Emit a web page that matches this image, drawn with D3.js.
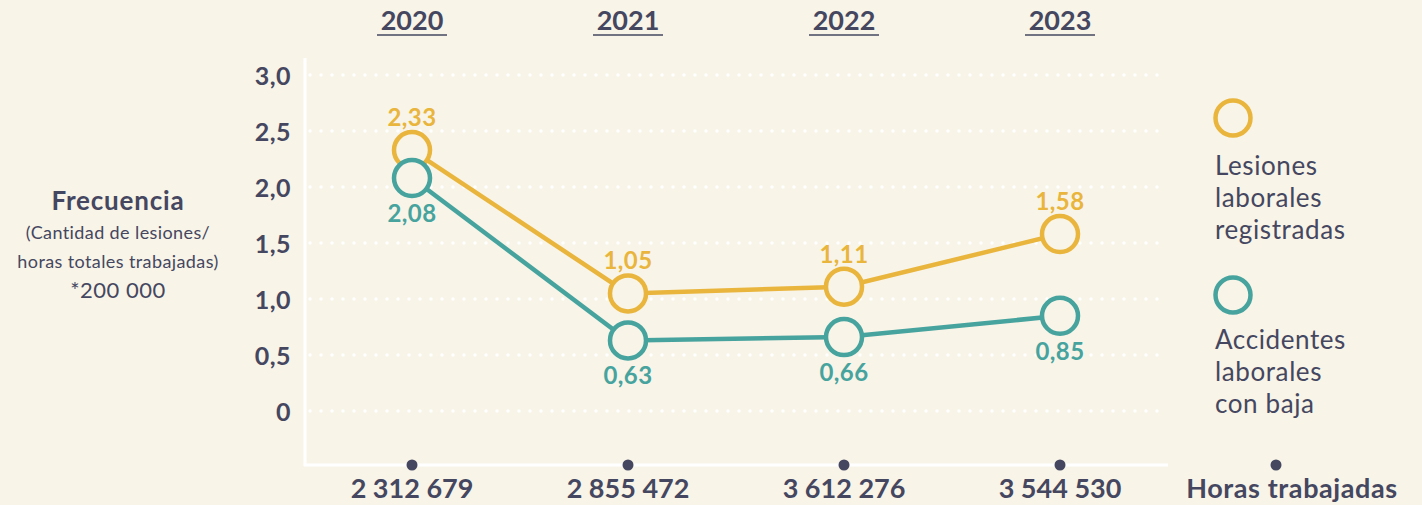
<!DOCTYPE html>
<html>
<head>
<meta charset="utf-8">
<script src="https://cdn.jsdelivr.net/npm/d3@7"></script>
<style>
  body { margin: 0; background: #f8f4e8; }
  svg { display: block; font-family: Lato, "Open Sans", sans-serif; }
</style>
</head>
<body>
<div id="chart"></div>
<script>
var years = ["2020", "2021", "2022", "2023"];
var horas = ["2 312 679", "2 855 472", "3 612 276", "3 544 530"];
var lesiones = [2.33, 1.05, 1.11, 1.58];
var accidentes = [2.08, 0.63, 0.66, 0.85];
var yTicks = [0, 0.5, 1.0, 1.5, 2.0, 2.5, 3.0];

var W = 1422, H = 505;
var dark = "#454760", yellow = "#e9b53c", teal = "#46a39e", bg = "#f8f4e8";

var svg = d3.select("#chart").append("svg")
    .attr("width", W)
    .attr("height", H);

var x = d3.scalePoint()
    .domain(years.concat(["horas"]))
    .range([412, 1276]);

var y = d3.scaleLinear()
    .domain([0, 3])
    .range([411, 75]);

var fmt = function(v) { return v === 0 ? "0" : d3.format(".1f")(v).replace(".", ","); };
var fmt2 = function(v) { return d3.format(".2f")(v).replace(".", ","); };

// dotted gridlines
svg.append("g").selectAll("line")
  .data(yTicks)
  .join("line")
    .attr("x1", 310).attr("x2", 1166)
    .attr("y1", function(d) { return y(d); })
    .attr("y2", function(d) { return y(d); })
    .attr("stroke", "#fff")
    .attr("stroke-width", 3.5)
    .attr("stroke-linecap", "round")
    .attr("stroke-dasharray", "0 11");

// y axis
var yAxis = d3.axisLeft(y).tickValues(yTicks).tickFormat(fmt).tickSize(0).tickPadding(0);
var gy = svg.append("g").attr("transform", "translate(291,0)").call(yAxis);
gy.select(".domain").remove();
gy.selectAll("text")
    .attr("fill", dark)
    .attr("font-size", 25)
    .attr("font-weight", 700)
    .attr("font-family", "Lato, sans-serif")
    .attr("letter-spacing", 0.5)
    .attr("dy", "0.36em");

// axis lines
svg.append("line").attr("x1", 305).attr("x2", 305).attr("y1", 58).attr("y2", 466)
    .attr("stroke", "#fff").attr("stroke-width", 3);
svg.append("line").attr("x1", 304).attr("x2", 1168).attr("y1", 465).attr("y2", 465)
    .attr("stroke", "#fff").attr("stroke-width", 3);

// bottom dots + labels
var bottom = svg.append("g");
bottom.selectAll("circle")
  .data(years.concat(["horas"]))
  .join("circle")
    .attr("cx", function(d) { return x(d); })
    .attr("cy", 465)
    .attr("r", 5.5)
    .attr("fill", dark);
bottom.selectAll("text")
  .data(horas.concat(["Horas trabajadas"]))
  .join("text")
    .attr("x", function(d, i) { return x(years.concat(["horas"])[i]) + (i === 4 ? 16 : 0); })
    .attr("y", 498)
    .attr("text-anchor", "middle")
    .attr("fill", dark)
    .attr("font-size", 27)
    .attr("font-weight", 700)
    .attr("letter-spacing", function(d, i) { return i === 4 ? 0.6 : 0; })
    .text(function(d) { return d; });

// top year headers
var head = svg.append("g").selectAll("g")
  .data(years)
  .join("g")
    .attr("transform", function(d) { return "translate(" + x(d) + ",0)"; });
head.append("text")
    .attr("y", 30)
    .attr("text-anchor", "middle")
    .attr("fill", dark)
    .attr("font-size", 27)
    .attr("font-weight", 700)
    .text(function(d) { return d; });
head.append("line")
    .attr("x1", -35).attr("x2", 35)
    .attr("y1", 35).attr("y2", 35)
    .attr("stroke", dark).attr("stroke-width", 1.5);

// y title
var title = svg.append("g").attr("text-anchor", "middle").attr("fill", dark);
title.append("text").attr("x", 118).attr("y", 210)
    .attr("font-size", 26).attr("font-weight", 700).attr("letter-spacing", 0.8)
    .text("Frecuencia");
title.append("text").attr("x", 118).attr("y", 239)
    .attr("font-size", 18).attr("letter-spacing", 0.4).text("(Cantidad de lesiones/");
title.append("text").attr("x", 118).attr("y", 268)
    .attr("font-size", 18).attr("letter-spacing", 0.4).text("horas totales trabajadas)");
title.append("text").attr("x", 118).attr("y", 298)
    .attr("font-size", 22).attr("letter-spacing", 0.5).text("*200 000");

// series
var series = [
  { name: "lesiones", values: lesiones, color: yellow, dy: -24 },
  { name: "accidentes", values: accidentes, color: teal, dy: 44 }
];

var line = d3.line()
    .x(function(d, i) { return x(years[i]); })
    .y(function(d) { return y(d); });

series.forEach(function(s) {
  svg.append("path")
      .attr("d", line(s.values))
      .attr("fill", "none")
      .attr("stroke", s.color)
      .attr("stroke-width", 4.5);
});

series.forEach(function(s) {
  var g = svg.append("g");
  g.selectAll("circle")
    .data(s.values)
    .join("circle")
      .attr("cx", function(d, i) { return x(years[i]); })
      .attr("cy", function(d) { return y(d); })
      .attr("r", 18)
      .attr("fill", bg)
      .attr("stroke", s.color)
      .attr("stroke-width", 4.5);
  g.selectAll("text")
    .data(s.values)
    .join("text")
      .attr("x", function(d, i) { return x(years[i]); })
      .attr("y", function(d) { return y(d) + s.dy; })
      .attr("text-anchor", "middle")
      .attr("fill", s.color)
      .attr("font-size", 24)
      .attr("font-weight", 700)
      .attr("letter-spacing", 0.4)
      .text(function(d) { return fmt2(d); });
});

// legend
var legend = [
  { color: yellow, cy: 118, lines: ["Lesiones", "laborales", "registradas"], ty: 175 },
  { color: teal, cy: 295, lines: ["Accidentes", "laborales", "con baja"], ty: 349 }
];
legend.forEach(function(l) {
  svg.append("circle")
      .attr("cx", 1233).attr("cy", l.cy).attr("r", 17.5)
      .attr("fill", "none").attr("stroke", l.color).attr("stroke-width", 4.5);
  svg.append("g").selectAll("text")
    .data(l.lines)
    .join("text")
      .attr("x", 1215)
      .attr("y", function(d, i) { return l.ty + i * 32; })
      .attr("fill", dark)
      .attr("font-size", 26)
      .attr("letter-spacing", 0.6)
      .text(function(d) { return d; });
});
</script>
</body>
</html>
